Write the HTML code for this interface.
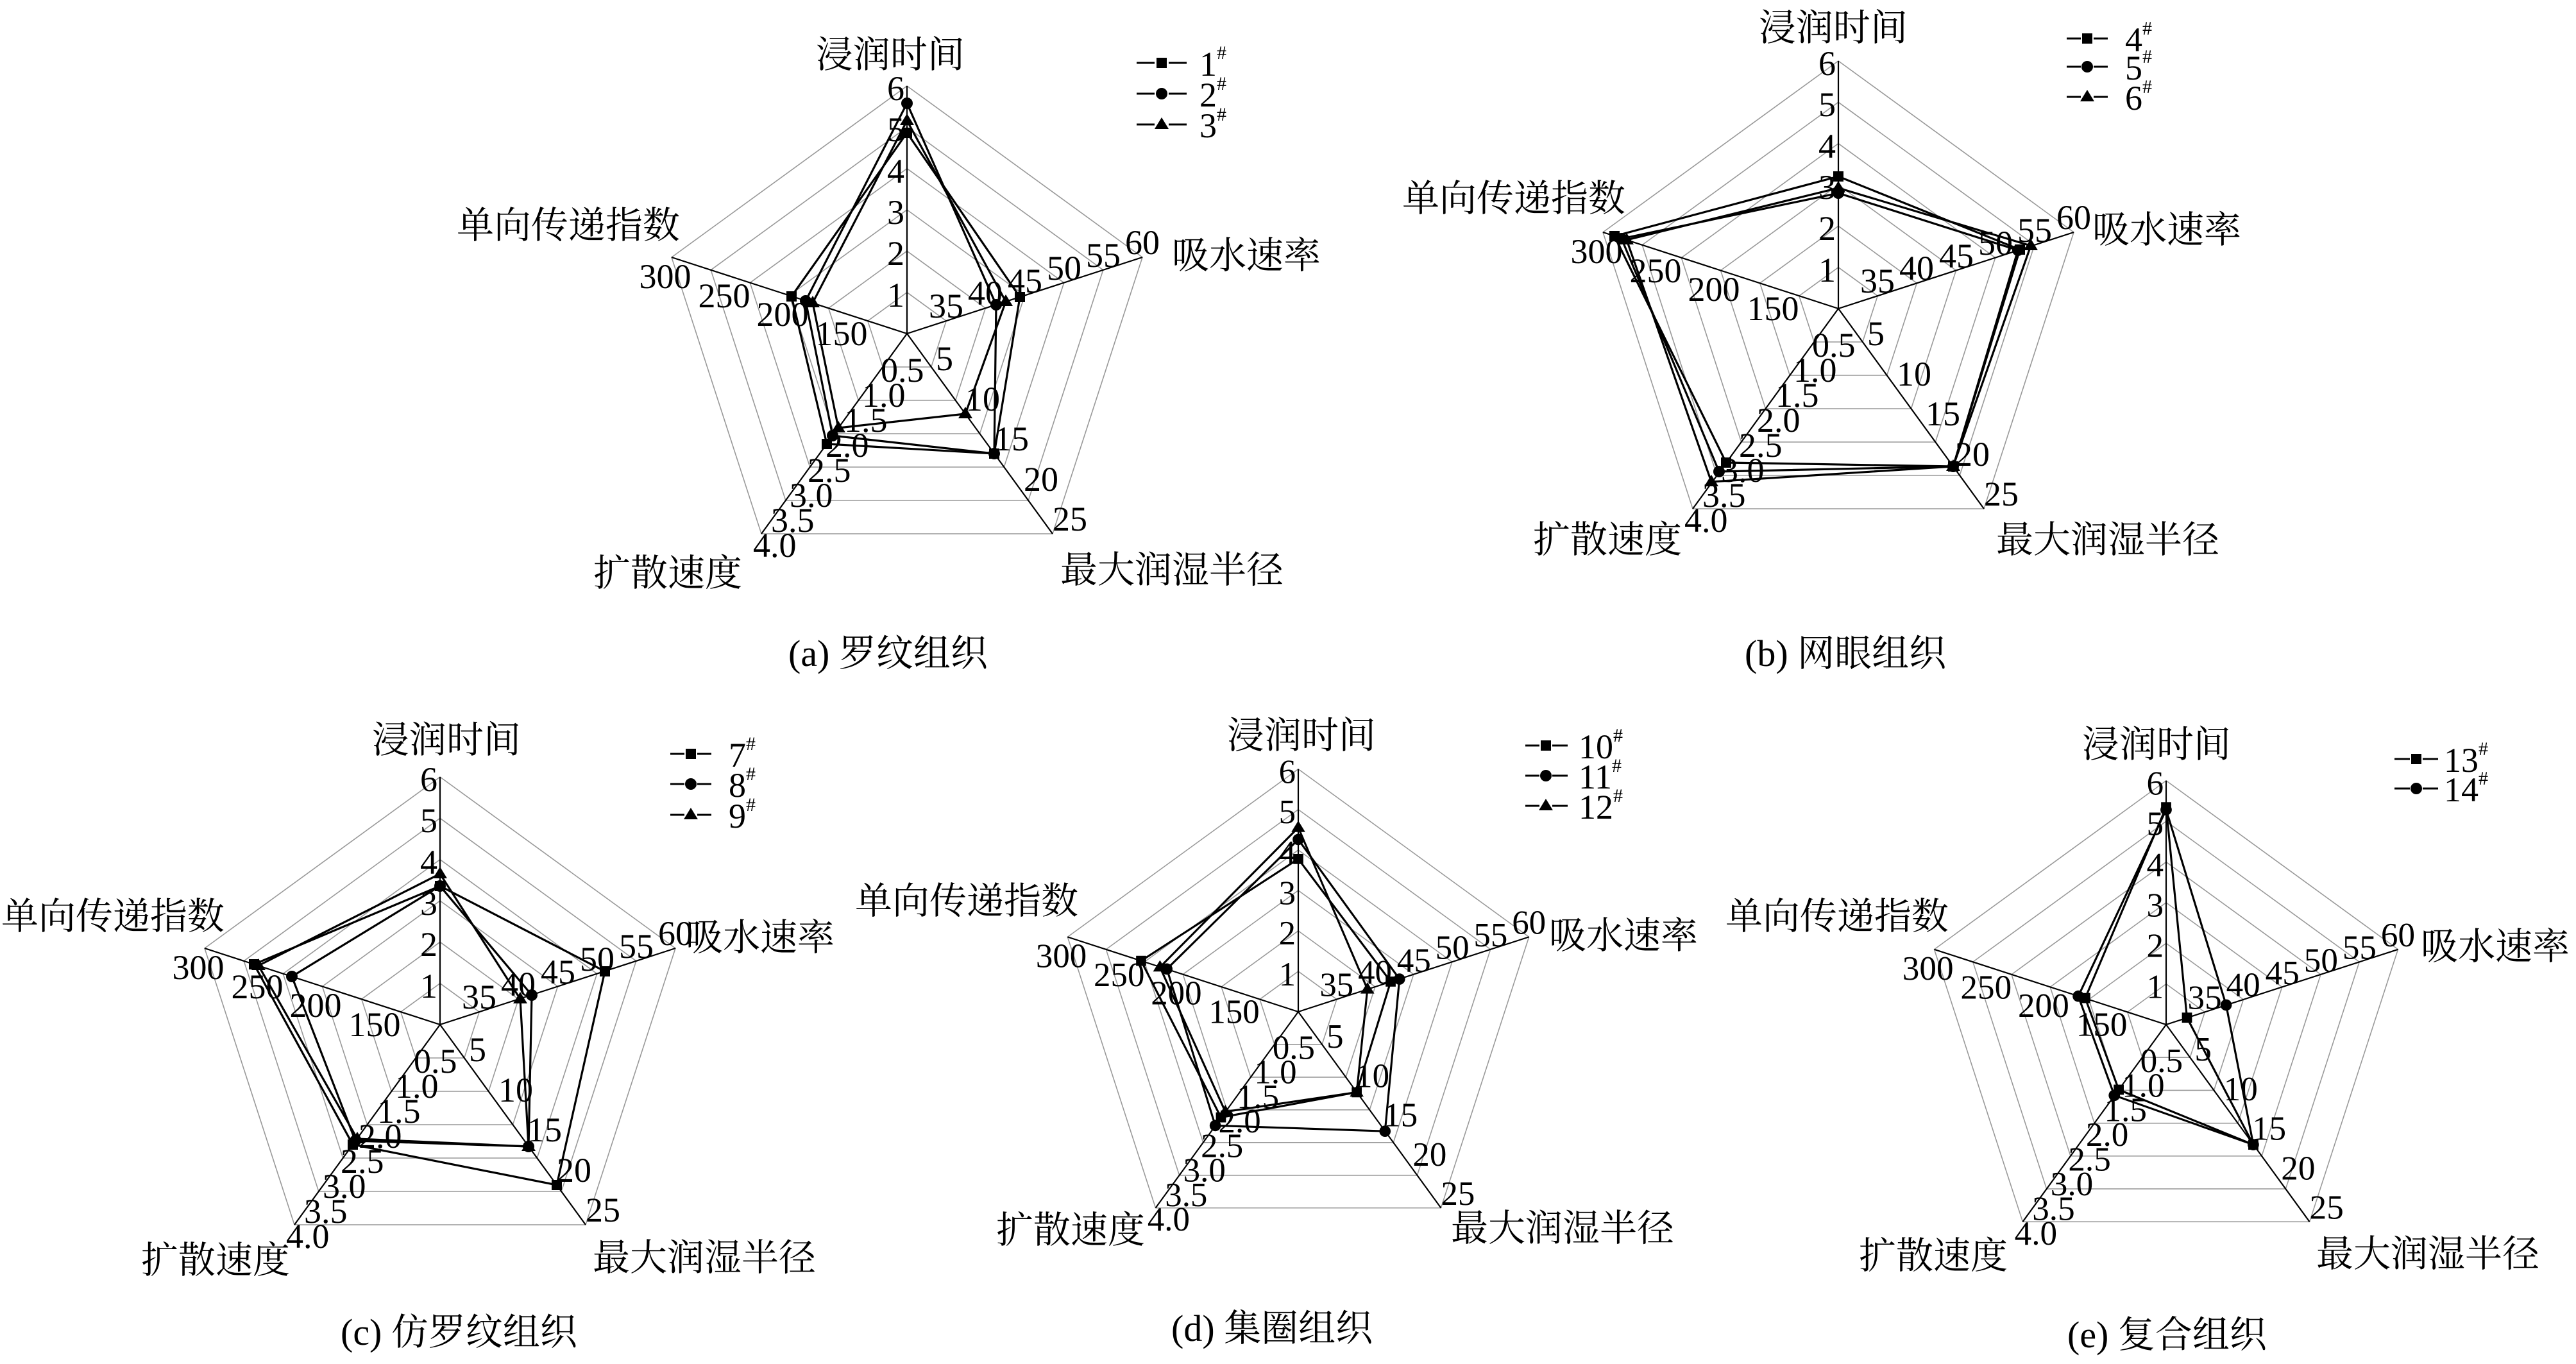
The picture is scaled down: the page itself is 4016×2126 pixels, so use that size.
<!DOCTYPE html>
<html><head><meta charset="utf-8">
<style>
html,body{margin:0;padding:0;background:#fff;}
svg{display:block;font-family:"Liberation Serif","DejaVu Serif","Noto Serif CJK SC",serif;}
text{font-family:"Liberation Serif","DejaVu Serif","Noto Serif CJK SC",serif;fill:#000;}
.cn{font-size:58px;font-family:"Liberation Serif","Noto Serif CJK SC","Noto Sans CJK SC",serif;}
.tk{font-size:54px;}
.lg{font-size:54px;}
.sup{font-size:30px;}
.ring{fill:none;stroke:#999;stroke-width:1.6;}
.ax{stroke:#000;stroke-width:2.2;}
.d{fill:none;stroke:#000;stroke-width:3.2;stroke-linejoin:miter;}
.sq{marker-start:url(#mS);marker-mid:url(#mS);}
.ci{marker-start:url(#mC);marker-mid:url(#mC);}
.tr{marker-start:url(#mT);marker-mid:url(#mT);}
</style></head><body>
<svg width="4016" height="2126" viewBox="0 0 4016 2126" xmlns="http://www.w3.org/2000/svg" font-family="Liberation Serif, DejaVu Serif, Noto Serif CJK SC, serif">
<defs>
<marker id="mS" markerUnits="userSpaceOnUse" markerWidth="20" markerHeight="20" refX="10" refY="10" orient="0"><rect x="2" y="2" width="16" height="16" fill="#000"/></marker>
<marker id="mC" markerUnits="userSpaceOnUse" markerWidth="22" markerHeight="22" refX="11" refY="11" orient="0"><circle cx="11" cy="11" r="9" fill="#000"/></marker>
<marker id="mT" markerUnits="userSpaceOnUse" markerWidth="24" markerHeight="24" refX="12" refY="13" orient="0"><polygon points="12,2 23,20 1,20" fill="#000"/></marker>
<g id="grid">
<polygon class="ring" points="0,-64.3 61.2,-19.8 37.8,52 -37.8,52 -61.2,-19.8"/>
<polygon class="ring" points="0,-128.7 122.3,-39.7 75.7,104 -75.7,104 -122.3,-39.7"/>
<polygon class="ring" points="0,-193 183.5,-59.5 113.5,156 -113.5,156 -183.5,-59.5"/>
<polygon class="ring" points="0,-257.3 244.7,-79.3 151.3,208 -151.3,208 -244.7,-79.3"/>
<polygon class="ring" points="0,-321.7 305.8,-99.2 189.2,260 -189.2,260 -305.8,-99.2"/>
<polygon class="ring" points="0,-386 367,-119 227,312 -227,312 -367,-119"/>
<line class="ax" x1="0" y1="0" x2="0" y2="-386"/>
<line class="ax" x1="0" y1="0" x2="367" y2="-119"/>
<line class="ax" x1="0" y1="0" x2="227" y2="312"/>
<line class="ax" x1="0" y1="0" x2="-227" y2="312"/>
<line class="ax" x1="0" y1="0" x2="-367" y2="-119"/>
</g>
</defs>

<!-- Panel a -->
<g transform="translate(1414,520)">
<use href="#grid"/>
<g class="tk" text-anchor="end"><text x="-4" y="-42">1</text><text x="-4" y="-107">2</text><text x="-4" y="-171">3</text><text x="-4" y="-235">4</text><text x="-4" y="-300">5</text><text x="-4" y="-364">6</text></g>
<g class="tk" text-anchor="middle"><text x="61" y="-25">35</text><text x="122" y="-45">40</text><text x="184" y="-64">45</text><text x="245" y="-84">50</text><text x="306" y="-104">55</text><text x="367" y="-124">60</text>
<text x="-102" y="18">150</text><text x="-194" y="-12">200</text><text x="-285" y="-41">250</text><text x="-377" y="-71">300</text></g>
<g class="tk"><text x="45" y="57">5</text><text x="91" y="120">10</text><text x="136" y="182">15</text><text x="182" y="245">20</text><text x="227" y="307">25</text>
<text x="-41" y="75">0.5</text><text x="-70" y="114">1.0</text><text x="-98" y="153">1.5</text><text x="-127" y="192">2.0</text><text x="-155" y="231">2.5</text><text x="-183" y="270">3.0</text><text x="-212" y="309">3.5</text><text x="-240" y="348">4.0</text></g>
<polygon class="d sq" points="0,-313 176,-57 136,187 -125,172 -180,-58"/>
<polygon class="d ci" points="0,-359 139,-45 136,187 -116,159 -158,-51"/>
<polygon class="d tr" points="0,-332 154,-50 91,125 -107,147 -147,-48"/>
</g>
<text class="cn" x="1272" y="105">浸润时间</text>
<text class="cn" x="1827" y="418">吸水速率</text>
<text class="cn" x="1653" y="908">最大润湿半径</text>
<text class="cn" x="925" y="913">扩散速度</text>
<text class="cn" x="712" y="371">单向传递指数</text>
<text class="cn" x="1229" y="1038">(a) 罗纹组织</text>

<!-- Panel b -->
<g transform="translate(2866,481)">
<use href="#grid"/>
<g class="tk" text-anchor="end"><text x="-4" y="-42">1</text><text x="-4" y="-107">2</text><text x="-4" y="-171">3</text><text x="-4" y="-235">4</text><text x="-4" y="-300">5</text><text x="-4" y="-364">6</text></g>
<g class="tk" text-anchor="middle"><text x="61" y="-25">35</text><text x="122" y="-45">40</text><text x="184" y="-64">45</text><text x="245" y="-84">50</text><text x="306" y="-104">55</text><text x="367" y="-124">60</text>
<text x="-102" y="18">150</text><text x="-194" y="-12">200</text><text x="-285" y="-41">250</text><text x="-377" y="-71">300</text></g>
<g class="tk"><text x="45" y="57">5</text><text x="91" y="120">10</text><text x="136" y="182">15</text><text x="182" y="245">20</text><text x="227" y="307">25</text>
<text x="-41" y="75">0.5</text><text x="-70" y="114">1.0</text><text x="-98" y="153">1.5</text><text x="-127" y="192">2.0</text><text x="-155" y="231">2.5</text><text x="-183" y="270">3.0</text><text x="-212" y="309">3.5</text><text x="-240" y="348">4.0</text></g>
<polygon class="d sq" points="0,-206 283,-92 179,246 -175,240 -349,-113"/>
<polygon class="d ci" points="0,-180 280,-91 179,246 -186,254 -338,-109"/>
<polygon class="d tr" points="0,-188 300,-98 179,246 -198,270 -330,-107"/>
</g>
<text class="cn" x="2742" y="63">浸润时间</text>
<text class="cn" x="3262" y="378">吸水速率</text>
<text class="cn" x="3112" y="861">最大润湿半径</text>
<text class="cn" x="2390" y="861">扩散速度</text>
<text class="cn" x="2186" y="329">单向传递指数</text>
<text class="cn" x="2720" y="1038">(b) 网眼组织</text>

<!-- Panel c -->
<g transform="translate(686,1597)">
<use href="#grid"/>
<g class="tk" text-anchor="end"><text x="-4" y="-42">1</text><text x="-4" y="-107">2</text><text x="-4" y="-171">3</text><text x="-4" y="-235">4</text><text x="-4" y="-300">5</text><text x="-4" y="-364">6</text></g>
<g class="tk" text-anchor="middle"><text x="61" y="-25">35</text><text x="122" y="-45">40</text><text x="184" y="-64">45</text><text x="245" y="-84">50</text><text x="306" y="-104">55</text><text x="367" y="-124">60</text>
<text x="-102" y="18">150</text><text x="-194" y="-12">200</text><text x="-285" y="-41">250</text><text x="-377" y="-71">300</text></g>
<g class="tk"><text x="45" y="57">5</text><text x="91" y="120">10</text><text x="136" y="182">15</text><text x="182" y="245">20</text><text x="227" y="307">25</text>
<text x="-41" y="75">0.5</text><text x="-70" y="114">1.0</text><text x="-98" y="153">1.5</text><text x="-127" y="192">2.0</text><text x="-155" y="231">2.5</text><text x="-183" y="270">3.0</text><text x="-212" y="309">3.5</text><text x="-240" y="348">4.0</text></g>
<polygon class="d sq" points="0,-216 257,-83 182,250 -136,187 -290,-94"/>
<polygon class="d ci" points="0,-216 143,-46 138,190 -132,181 -231,-75"/>
<polygon class="d tr" points="0,-235 125,-40 138,190 -129,178 -283,-92"/>
</g>
<text class="cn" x="580" y="1173">浸润时间</text>
<text class="cn" x="1069" y="1481">吸水速率</text>
<text class="cn" x="924" y="1980">最大润湿半径</text>
<text class="cn" x="220" y="1984">扩散速度</text>
<text class="cn" x="2" y="1448">单向传递指数</text>
<text class="cn" x="531" y="2096">(c) 仿罗纹组织</text>

<!-- Panel d -->
<g transform="translate(2024,1577) scale(0.98)">
<use href="#grid"/>
<g class="tk" text-anchor="end"><text x="-4" y="-42">1</text><text x="-4" y="-107">2</text><text x="-4" y="-171">3</text><text x="-4" y="-235">4</text><text x="-4" y="-300">5</text><text x="-4" y="-364">6</text></g>
<g class="tk" text-anchor="middle"><text x="61" y="-25">35</text><text x="122" y="-45">40</text><text x="184" y="-64">45</text><text x="245" y="-84">50</text><text x="306" y="-104">55</text><text x="367" y="-124">60</text>
<text x="-102" y="18">150</text><text x="-194" y="-12">200</text><text x="-285" y="-41">250</text><text x="-377" y="-71">300</text></g>
<g class="tk"><text x="45" y="57">5</text><text x="91" y="120">10</text><text x="136" y="182">15</text><text x="182" y="245">20</text><text x="227" y="307">25</text>
<text x="-41" y="75">0.5</text><text x="-70" y="114">1.0</text><text x="-98" y="153">1.5</text><text x="-127" y="192">2.0</text><text x="-155" y="231">2.5</text><text x="-183" y="270">3.0</text><text x="-212" y="309">3.5</text><text x="-240" y="348">4.0</text></g>
<polygon class="d sq" points="0,-243 147,-48 93,128 -123,168 -250,-81"/>
<polygon class="d ci" points="0,-274 161,-52 138,190 -132,181 -209,-68"/>
<polygon class="d tr" points="0,-293 110,-36 93,128 -116,159 -220,-71"/>
</g>
<text class="cn" x="1913" y="1166">浸润时间</text>
<text class="cn" x="2415" y="1478">吸水速率</text>
<text class="cn" x="2262" y="1934">最大润湿半径</text>
<text class="cn" x="1553" y="1937">扩散速度</text>
<text class="cn" x="1333" y="1424">单向传递指数</text>
<text class="cn" x="1826" y="2090">(d) 集圈组织</text>

<!-- Panel e -->
<g transform="translate(3377,1597) scale(0.985)">
<use href="#grid"/>
<g class="tk" text-anchor="end"><text x="-4" y="-42">1</text><text x="-4" y="-107">2</text><text x="-4" y="-171">3</text><text x="-4" y="-235">4</text><text x="-4" y="-300">5</text><text x="-4" y="-364">6</text></g>
<g class="tk" text-anchor="middle"><text x="61" y="-25">35</text><text x="122" y="-45">40</text><text x="184" y="-64">45</text><text x="245" y="-84">50</text><text x="306" y="-104">55</text><text x="367" y="-124">60</text>
<text x="-102" y="18">150</text><text x="-194" y="-12">200</text><text x="-285" y="-41">250</text><text x="-377" y="-71">300</text></g>
<g class="tk"><text x="45" y="57">5</text><text x="91" y="120">10</text><text x="136" y="182">15</text><text x="182" y="245">20</text><text x="227" y="307">25</text>
<text x="-41" y="75">0.5</text><text x="-70" y="114">1.0</text><text x="-98" y="153">1.5</text><text x="-127" y="192">2.0</text><text x="-155" y="231">2.5</text><text x="-183" y="270">3.0</text><text x="-212" y="309">3.5</text><text x="-240" y="348">4.0</text></g>
<polygon class="d sq" points="0,-344 33,-11 138,190 -75,103 -128,-42"/>
<polygon class="d ci" points="0,-340 95,-31 138,190 -82,112 -139,-45"/>
</g>
<text class="cn" x="3246" y="1180">浸润时间</text>
<text class="cn" x="3774" y="1495">吸水速率</text>
<text class="cn" x="3611" y="1974">最大润湿半径</text>
<text class="cn" x="2898" y="1977">扩散速度</text>
<text class="cn" x="2690" y="1448">单向传递指数</text>
<text class="cn" x="3223" y="2100">(e) 复合组织</text>

<!-- Legends -->
<g stroke="#000" stroke-width="3">
<line x1="1772" y1="98" x2="1800" y2="98"/><line x1="1822" y1="98" x2="1850" y2="98"/>
<line x1="1772" y1="146" x2="1800" y2="146"/><line x1="1822" y1="146" x2="1850" y2="146"/>
<line x1="1772" y1="194" x2="1800" y2="194"/><line x1="1822" y1="194" x2="1850" y2="194"/>
<line x1="3222" y1="60" x2="3244" y2="60"/><line x1="3264" y1="60" x2="3286" y2="60"/>
<line x1="3222" y1="104" x2="3244" y2="104"/><line x1="3264" y1="104" x2="3286" y2="104"/>
<line x1="3222" y1="151" x2="3244" y2="151"/><line x1="3264" y1="151" x2="3286" y2="151"/>
<line x1="1045" y1="1175" x2="1067" y2="1175"/><line x1="1087" y1="1175" x2="1109" y2="1175"/>
<line x1="1045" y1="1222" x2="1067" y2="1222"/><line x1="1087" y1="1222" x2="1109" y2="1222"/>
<line x1="1045" y1="1270" x2="1067" y2="1270"/><line x1="1087" y1="1270" x2="1109" y2="1270"/>
<line x1="2378" y1="1162" x2="2400" y2="1162"/><line x1="2420" y1="1162" x2="2444" y2="1162"/>
<line x1="2378" y1="1209" x2="2400" y2="1209"/><line x1="2420" y1="1209" x2="2444" y2="1209"/>
<line x1="2378" y1="1256" x2="2400" y2="1256"/><line x1="2420" y1="1256" x2="2444" y2="1256"/>
<line x1="3733" y1="1183" x2="3757" y2="1183"/><line x1="3777" y1="1183" x2="3801" y2="1183"/>
<line x1="3733" y1="1229" x2="3757" y2="1229"/><line x1="3777" y1="1229" x2="3801" y2="1229"/>
</g>
<g fill="#000">
<rect x="1803" y="90" width="16" height="16"/><circle cx="1811" cy="146" r="9"/><polygon points="1811,183 1822,201 1800,201"/>
<rect x="3246" y="52" width="16" height="16"/><circle cx="3254" cy="104" r="9"/><polygon points="3254,140 3265,158 3243,158"/>
<rect x="1069" y="1167" width="16" height="16"/><circle cx="1077" cy="1222" r="9"/><polygon points="1077,1259 1088,1277 1066,1277"/>
<rect x="2402" y="1154" width="16" height="16"/><circle cx="2410" cy="1209" r="9"/><polygon points="2410,1245 2421,1263 2399,1263"/>
<rect x="3759" y="1175" width="16" height="16"/><circle cx="3767" cy="1229" r="9"/>
</g>
<g class="lg">
<text x="1870" y="118">1<tspan class="sup" dy="-26">#</tspan></text>
<text x="1870" y="166">2<tspan class="sup" dy="-26">#</tspan></text>
<text x="1870" y="214">3<tspan class="sup" dy="-26">#</tspan></text>
<text x="3313" y="80">4<tspan class="sup" dy="-26">#</tspan></text>
<text x="3313" y="124">5<tspan class="sup" dy="-26">#</tspan></text>
<text x="3313" y="171">6<tspan class="sup" dy="-26">#</tspan></text>
<text x="1136" y="1195">7<tspan class="sup" dy="-26">#</tspan></text>
<text x="1136" y="1242">8<tspan class="sup" dy="-26">#</tspan></text>
<text x="1136" y="1290">9<tspan class="sup" dy="-26">#</tspan></text>
<text x="2461" y="1182">10<tspan class="sup" dy="-26">#</tspan></text>
<text x="2461" y="1229">11<tspan class="sup" dy="-26">#</tspan></text>
<text x="2461" y="1276">12<tspan class="sup" dy="-26">#</tspan></text>
<text x="3810" y="1203">13<tspan class="sup" dy="-26">#</tspan></text>
<text x="3810" y="1249">14<tspan class="sup" dy="-26">#</tspan></text>
</g>
</svg>
</body></html>
